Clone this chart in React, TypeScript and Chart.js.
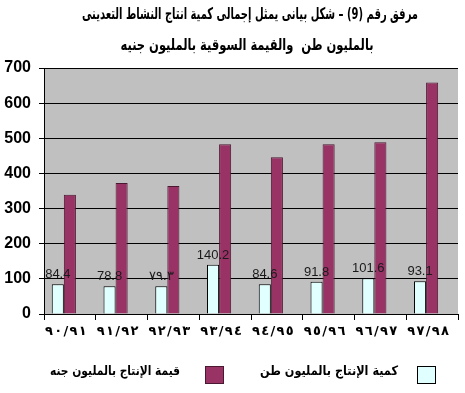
import React, { useEffect, useRef } from "react";
import { Chart, registerables } from "chart.js";

Chart.register(...registerables);

const titleLines = [
  "مرفق رقم (9) – شكل بيانى يمثل إجمالى كمية انتاج النشاط التعدينى",
  "بالمليون طن  والقيمة السوقية بالمليون جنيه",
];
const categories = ["٩٠/٩١", "٩١/٩٢", "٩٢/٩٣", "٩٣/٩٤", "٩٤/٩٥", "٩٥/٩٦", "٩٦/٩٧", "٩٧/٩٨"];
const quantityLabel = "كمية الإنتاج بالمليون طن";
const valueLabel = "قيمة الإنتاج بالمليون جنه";
const quantityValues = [84.4, 78.8, 79.3, 140.2, 84.6, 91.8, 101.6, 93.1];
const quantityTexts = ["84.4", "78.8", "٧٩.٣", "140.2", "84.6", "91.8", "101.6", "93.1"];
const marketValues = [339, 373, 364, 483, 446, 483, 489, 659];
const yTicks = [0, 100, 200, 300, 400, 500, 600, 700];

// keep left-to-right order of Arabic-Indic digits while adding a little spacing
const spaced = (s: string) => s.split("").join("\u200E\u200A\u200E");

function drawFitted(ctx: CanvasRenderingContext2D, text: string, cx: number, cy: number, width: number) {
  const w = ctx.measureText(text).width;
  const sx = width / w;
  ctx.save();
  ctx.translate(cx, cy);
  ctx.scale(sx, 1);
  ctx.textAlign = "center";
  ctx.fillText(text, 0, 0);
  ctx.restore();
}

const bgPlugin = {
  id: "plotBg",
  beforeDraw(chart: any) {
    const { ctx, chartArea } = chart;
    ctx.save();
    ctx.fillStyle = "#c0c0c0";
    ctx.fillRect(chartArea.left, chartArea.top, chartArea.right - chartArea.left, chartArea.bottom - chartArea.top);
    ctx.restore();
  },
};

const labelsPlugin = {
  id: "barLabels",
  afterDatasetsDraw(chart: any) {
    const { ctx } = chart;
    const meta = chart.getDatasetMeta(0);
    ctx.save();
    ctx.font = "13px 'Liberation Sans', Arial, sans-serif";
    ctx.fillStyle = "#1a1a1a";
    ctx.textAlign = "center";
    ctx.textBaseline = "alphabetic";
    meta.data.forEach((bar: any, i: number) => {
      ctx.fillText(quantityTexts[i], bar.x, bar.y - 6);
    });
    ctx.restore();
  },
};

const textPlugin = {
  id: "titleLegend",
  afterDraw(chart: any) {
    const { ctx } = chart;
    ctx.save();
    ctx.fillStyle = "#000";
    ctx.textBaseline = "middle";
    ctx.direction = "rtl";
    ctx.font = "bold 16px 'DejaVu Sans', sans-serif";
    drawFitted(ctx, titleLines[0], 250, 15, 336);
    drawFitted(ctx, titleLines[1], 247, 46, 253);

    const ds = chart.data.datasets;
    const items = [
      { x: 417, textCenter: 329, textWidth: 138, ds: ds[0] },
      { x: 205, textCenter: 115, textWidth: 130, ds: ds[1] },
    ];
    ctx.font = "bold 13px 'DejaVu Sans', sans-serif";
    items.forEach((it) => {
      ctx.fillStyle = it.ds.backgroundColor;
      ctx.fillRect(it.x, 366, 19, 18);
      ctx.strokeStyle = it.ds.borderColor;
      ctx.lineWidth = 1;
      ctx.strokeRect(it.x + 0.5, 366.5, 18, 17);
      ctx.fillStyle = "#000";
      drawFitted(ctx, it.ds.label, it.textCenter, 372, it.textWidth);
    });
    ctx.restore();
  },
};

export default function App() {
  const ref = useRef<HTMLCanvasElement>(null);
  useEffect(() => {
    if (!ref.current) return;
    const chart = new Chart(ref.current, {
      type: "bar",
      data: {
        labels: categories.map(spaced),
        datasets: [
          {
            label: quantityLabel,
            data: quantityValues,
            backgroundColor: "#e0ffff",
            borderColor: "#000000",
            borderWidth: 1,
          },
          {
            label: valueLabel,
            data: marketValues,
            backgroundColor: "#993366",
            borderColor: "#4a1830",
            borderWidth: 1,
          },
          {
            label: "",
            data: categories.map(() => null),
            backgroundColor: "transparent",
          },
        ],
      },
      options: {
        responsive: false,
        animation: false,
        layout: { padding: { top: 68, right: 7, bottom: 0, left: 0 } },
        datasets: { bar: { categoryPercentage: 0.7, barPercentage: 1 } },
        plugins: { legend: { display: false }, title: { display: false }, tooltip: { enabled: false } },
        scales: {
          x: {
            offset: true,
            afterFit: (s: any) => { s.height = 79; },
            grid: { display: true, offset: true, drawOnChartArea: false, drawTicks: true, tickLength: 6, color: "#000" },
            border: { display: true, color: "#000", width: 1 },
            ticks: {
              color: "#000",
              font: { family: "'DejaVu Sans', sans-serif", size: 13, weight: "bold" },
              padding: 4,
              labelOffset: -4,
              maxRotation: 0,
              autoSkip: false,
            },
          },
          y: {
            min: 0,
            max: 700,
            afterFit: (s: any) => { s.width = 44; },
            afterBuildTicks: (s: any) => { s.ticks = yTicks.map((v) => ({ value: v })); },
            grid: { color: "#000", lineWidth: 1, drawTicks: true, tickLength: 5 },
            border: { display: true, color: "#000", width: 1 },
            ticks: {
              color: "#000",
              font: { family: "'Liberation Sans', Arial, sans-serif", size: 16, weight: "bold" },
              padding: 8,
            },
          },
        },
      },
      plugins: [bgPlugin, labelsPlugin, textPlugin],
    });
    return () => chart.destroy();
  }, []);
  return (
    <div style={{ position: "absolute", left: 0, top: 0, width: 465, height: 393, background: "#fff" }}>
      <canvas ref={ref} width={465} height={393} />
    </div>
  );
}
